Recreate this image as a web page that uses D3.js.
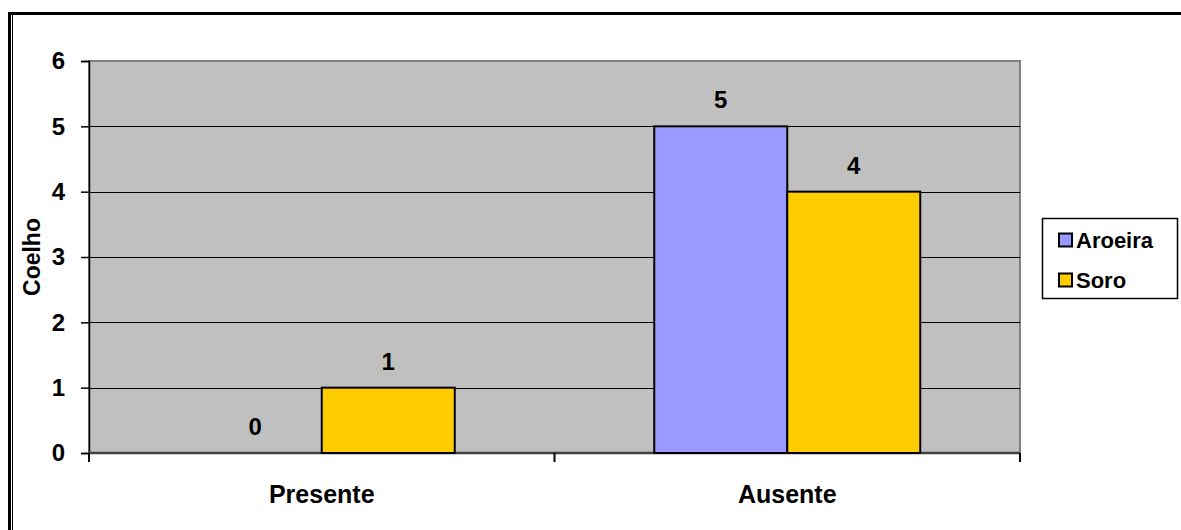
<!DOCTYPE html>
<html>
<head>
<meta charset="utf-8">
<script src="https://cdn.jsdelivr.net/npm/d3@7"></script>
<style>
  html, body { margin: 0; padding: 0; background: #fff; }
  svg text { font-family: "Liberation Sans", Arial, sans-serif; font-weight: bold; }
</style>
</head>
<body>
<svg id="chart" width="1181" height="530"></svg>
<script>
const categories = ["Presente", "Ausente"];
const seriesNames = ["Aroeira", "Soro"];
const aroeira = [0, 5];
const soro = [1, 4];
const yTicks = [0, 1, 2, 3, 4, 5, 6];
const colors = ["#9999FF", "#FFCC00"];
const axisTitle = "Coelho";

const svg = d3.select("#chart");
const W = 1181, H = 530;
const plot = { left: 89, top: 61, right: 1020, bottom: 453 };
const FONT = "'Liberation Sans', Arial, sans-serif";

// page background and frame: heavy black rule on top and left, thin inner rule on the left
svg.append("rect").attr("x", 0).attr("y", 0).attr("width", W).attr("height", H).attr("fill", "#fff");
svg.append("path")
  .attr("d", `M9.5,${H + 5} V13.5 H${W + 5}`)
  .attr("fill", "none").attr("stroke", "#000").attr("stroke-width", 3);
svg.append("line").attr("x1", 12.5).attr("x2", 12.5).attr("y1", 15).attr("y2", H)
  .attr("stroke", "#000").attr("stroke-width", 1);

const x0 = d3.scaleBand().domain(categories).range([plot.left, plot.right]).paddingInner(0).paddingOuter(0);
const x1 = d3.scaleBand().domain(seriesNames).range([0, x0.bandwidth()]).paddingInner(0).paddingOuter(0.75);
const y = d3.scaleLinear().domain([0, 6]).range([plot.bottom, plot.top]);

// plot background
svg.append("rect")
  .attr("x", plot.left).attr("y", plot.top)
  .attr("width", plot.right - plot.left).attr("height", plot.bottom - plot.top)
  .attr("fill", "#C0C0C0").attr("stroke", "#808080").attr("stroke-width", 2);

// horizontal gridlines
svg.append("g").selectAll("line").data(yTicks.filter(t => t > 0 && t < 6)).join("line")
  .attr("x1", plot.left).attr("x2", plot.right)
  .attr("y1", d => Math.round(y(d)) + 0.5).attr("y2", d => Math.round(y(d)) + 0.5)
  .attr("stroke", "#000").attr("stroke-width", 1);

// y axis
const yAxis = d3.axisLeft(y).tickValues(yTicks).tickFormat(d3.format("d")).tickSize(8).tickPadding(16);
const gy = svg.append("g").attr("transform", `translate(${plot.left},0)`).call(yAxis);
gy.select(".domain").attr("stroke", "#000").attr("stroke-width", 1.5);
gy.selectAll(".tick line").attr("stroke", "#000").attr("stroke-width", 1.5);
gy.selectAll("text").attr("font-size", 24).attr("fill", "#000")
  .style("font-family", FONT).style("font-weight", "bold");

// x axis: category labels centred under each group, ticks at group boundaries
const xAxis = d3.axisBottom(x0).tickSize(0).tickPadding(32);
const gx = svg.append("g").attr("transform", `translate(0,${plot.bottom})`).call(xAxis);
gx.select(".domain").attr("stroke", "#404040").attr("stroke-width", 2.5)
  .attr("d", `M${plot.left},0H${plot.right}`);
const bounds = categories.map(c => x0(c)).concat([x0(categories[categories.length - 1]) + x0.bandwidth()]);
gx.selectAll("line.bound").data(bounds).join("line").attr("class", "bound")
  .attr("x1", d => d).attr("x2", d => d).attr("y1", 0).attr("y2", 9)
  .attr("stroke", "#000").attr("stroke-width", 2);
gx.selectAll(".tick text").attr("font-size", 25).attr("fill", "#000")
  .style("font-family", FONT).style("font-weight", "bold");

// bars
const rows = categories.map((c, i) => ({ cat: c, vals: [aroeira[i], soro[i]] }));
const groups = svg.append("g").selectAll("g").data(rows).join("g")
  .attr("transform", d => `translate(${x0(d.cat)},0)`);
groups.selectAll("rect")
  .data(d => d.vals.map((v, j) => ({ name: seriesNames[j], v, j })).filter(e => e.v > 0))
  .join("rect")
  .attr("x", d => x1(d.name)).attr("width", x1.bandwidth())
  .attr("y", d => y(d.v)).attr("height", d => y(0) - y(d.v))
  .attr("fill", d => colors[d.j]).attr("stroke", "#000").attr("stroke-width", 2);
groups.selectAll("text.val")
  .data(d => d.vals.map((v, j) => ({ name: seriesNames[j], v, j })))
  .join("text").attr("class", "val")
  .attr("x", d => x1(d.name) + x1.bandwidth() / 2)
  .attr("y", d => y(d.v) - 18)
  .attr("text-anchor", "middle").attr("font-size", 24).attr("fill", "#000")
  .text(d => d.v);

// y axis title
svg.append("text")
  .attr("transform", `translate(40,${(plot.top + plot.bottom) / 2}) rotate(-90)`)
  .attr("text-anchor", "middle").attr("font-size", 23).attr("fill", "#000")
  .text(axisTitle);

// legend
const lg = svg.append("g").attr("transform", "translate(1042,218)");
lg.append("rect").attr("x", 0.5).attr("y", 0.5).attr("width", 135).attr("height", 80)
  .attr("fill", "#fff").attr("stroke", "#000").attr("stroke-width", 1.5);
seriesNames.forEach((n, i) => {
  const yy = 22 + i * 40;
  lg.append("rect").attr("x", 17).attr("y", yy - 6.5).attr("width", 13).attr("height", 13)
    .attr("fill", colors[i]).attr("stroke", "#000").attr("stroke-width", 2);
  lg.append("text").attr("x", 34).attr("y", yy + 8).attr("font-size", 22).attr("fill", "#000").text(n);
});
</script>
</body>
</html>
